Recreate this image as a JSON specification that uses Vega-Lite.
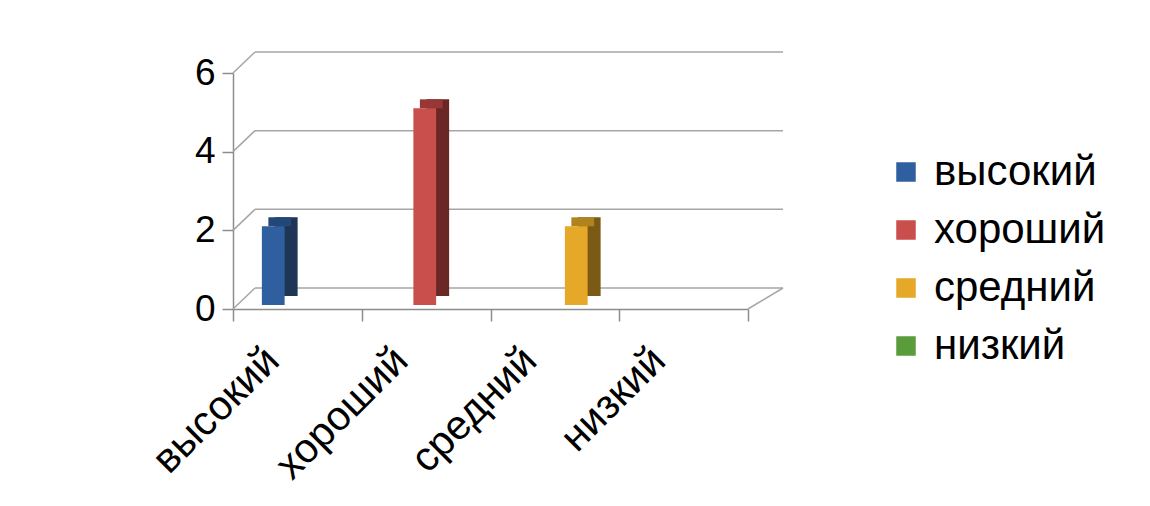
{
  "$schema": "https://vega.github.io/schema/vega-lite/v6.json",
  "width": 515,
  "height": 236,
  "autosize": {"type": "none"},
  "padding": {"left": 233, "top": 73, "right": 402, "bottom": 197},
  "background": "white",
  "config": {"view": {"stroke": null}, "font": "Liberation Sans"},
  "datasets": {
    "bars": [
      {"category": "высокий", "series": "высокий", "value": 2},
      {"category": "хороший", "series": "хороший", "value": 5},
      {"category": "средний", "series": "средний", "value": 2},
      {"category": "низкий", "series": "низкий", "value": 0}
    ],
    "grid": [{"value": 0}, {"value": 2}, {"value": 4}, {"value": 6}]
  },
  "resolve": {"scale": {"color": "independent", "xOffset": "independent"}},
  "layer": [
    {
      "data": {"name": "grid"},
      "mark": {"type": "rule", "color": "#A6A6A6", "strokeWidth": 1.5, "xOffset": 22, "x2Offset": 35, "yOffset": -21, "y2Offset": -21},
      "encoding": {
        "x": {"value": 0},
        "x2": {"value": {"expr": "width"}},
        "y": {
          "field": "value", "type": "quantitative", "title": null,
          "scale": {"domain": [0, 6], "nice": false},
          "axis": {"values": [0, 2, 4, 6], "labelFontSize": 37, "labelColor": "#000000", "labelPadding": 7, "tickSize": 11, "grid": false, "domainColor": "#8C8C8C", "tickColor": "#8C8C8C", "domainWidth": 1.5, "tickWidth": 1.5}
        },
        "y2": {"field": "value"}
      }
    },
    {
      "data": {"name": "grid"},
      "mark": {"type": "rule", "color": "#A6A6A6", "strokeWidth": 1.5, "x2Offset": 22, "y2Offset": -21},
      "encoding": {
        "x": {"value": 0},
        "x2": {"value": 0},
        "y": {"field": "value", "type": "quantitative", "title": null},
        "y2": {"field": "value"}
      }
    },
    {
      "data": {"name": "grid"},
      "transform": [{"filter": "datum.value == 0"}],
      "mark": {"type": "rule", "color": "#A6A6A6", "strokeWidth": 1.5, "x2Offset": 35, "y2Offset": -21},
      "encoding": {
        "x": {"value": {"expr": "width"}},
        "x2": {"value": {"expr": "width"}},
        "y": {"field": "value", "type": "quantitative", "title": null},
        "y2": {"field": "value"}
      }
    },
    {
      "data": {"name": "bars"},
      "transform": [{"filter": "datum.value > 0"}],
      "mark": {"type": "bar", "yOffset": -13, "y2Offset": -13},
      "encoding": {
        "x": {"field": "category", "type": "nominal", "title": null, "scale": {"domain": ["высокий", "хороший", "средний", "низкий"], "paddingInner": 0, "paddingOuter": 0}},
        "xOffset": {"field": "series", "type": "nominal", "scale": {"domain": ["высокий", "хороший", "средний", "низкий"], "range": [23, 151.75], "paddingInner": 0, "paddingOuter": 0.83}},
        "y": {"field": "value", "type": "quantitative", "title": null},
        "color": {"field": "series", "type": "nominal", "legend": null, "scale": {"domain": ["высокий", "хороший", "средний", "низкий"], "range": ["#1E3556", "#6B2626", "#7A5A14", "#2F5220"]}}
      }
    },
    {
      "data": {"name": "bars"},
      "transform": [{"filter": "datum.value > 0"}],
      "mark": {"type": "bar", "yOffset": -13, "y2Offset": -4},
      "encoding": {
        "x": {"field": "category", "type": "nominal", "title": null},
        "xOffset": {"field": "series", "type": "nominal", "scale": {"domain": ["высокий", "хороший", "средний", "низкий"], "range": [16.5, 145.25], "paddingInner": 0, "paddingOuter": 0.83}},
        "y": {"field": "value", "type": "quantitative", "title": null},
        "y2": {"field": "value"},
        "color": {"field": "series", "type": "nominal", "legend": null, "scale": {"domain": ["высокий", "хороший", "средний", "низкий"], "range": ["#24477A", "#973836", "#B0831E", "#3F6E2A"]}}
      }
    },
    {
      "data": {"name": "bars"},
      "mark": {"type": "bar", "yOffset": -4, "y2Offset": -4},
      "encoding": {
        "x": {
          "field": "category", "type": "nominal", "title": null,
          "axis": {"labelAngle": -45, "labelAlign": "right", "labelBaseline": "middle", "labelFontSize": 41, "labelColor": "#000000", "labelOffset": -25, "labelPadding": 33, "tickBand": "extent", "tickSize": 12, "tickColor": "#8C8C8C", "domainColor": "#8C8C8C", "domainWidth": 1.5, "tickWidth": 1.5, "grid": false, "labelLimit": 400}
        },
        "xOffset": {"field": "series", "type": "nominal", "scale": {"domain": ["высокий", "хороший", "средний", "низкий"], "range": [10, 138.75], "paddingInner": 0, "paddingOuter": 0.83}},
        "y": {"field": "value", "type": "quantitative", "title": null},
        "color": {
          "field": "series", "type": "nominal",
          "scale": {"domain": ["высокий", "хороший", "средний", "низкий"], "range": ["#2F5F9F", "#C94F4C", "#E6A829", "#5A9B3B"]},
          "legend": {"title": null, "orient": "none", "legendX": 652, "legendY": 78, "symbolType": "square", "symbolSize": 380, "symbolStrokeWidth": 0, "labelFontSize": 42, "labelFont": "Liberation Sans", "labelColor": "#000000", "labelOffset": 7, "labelLimit": 400, "rowPadding": 16, "padding": 0}
        }
      }
    }
  ]
}
